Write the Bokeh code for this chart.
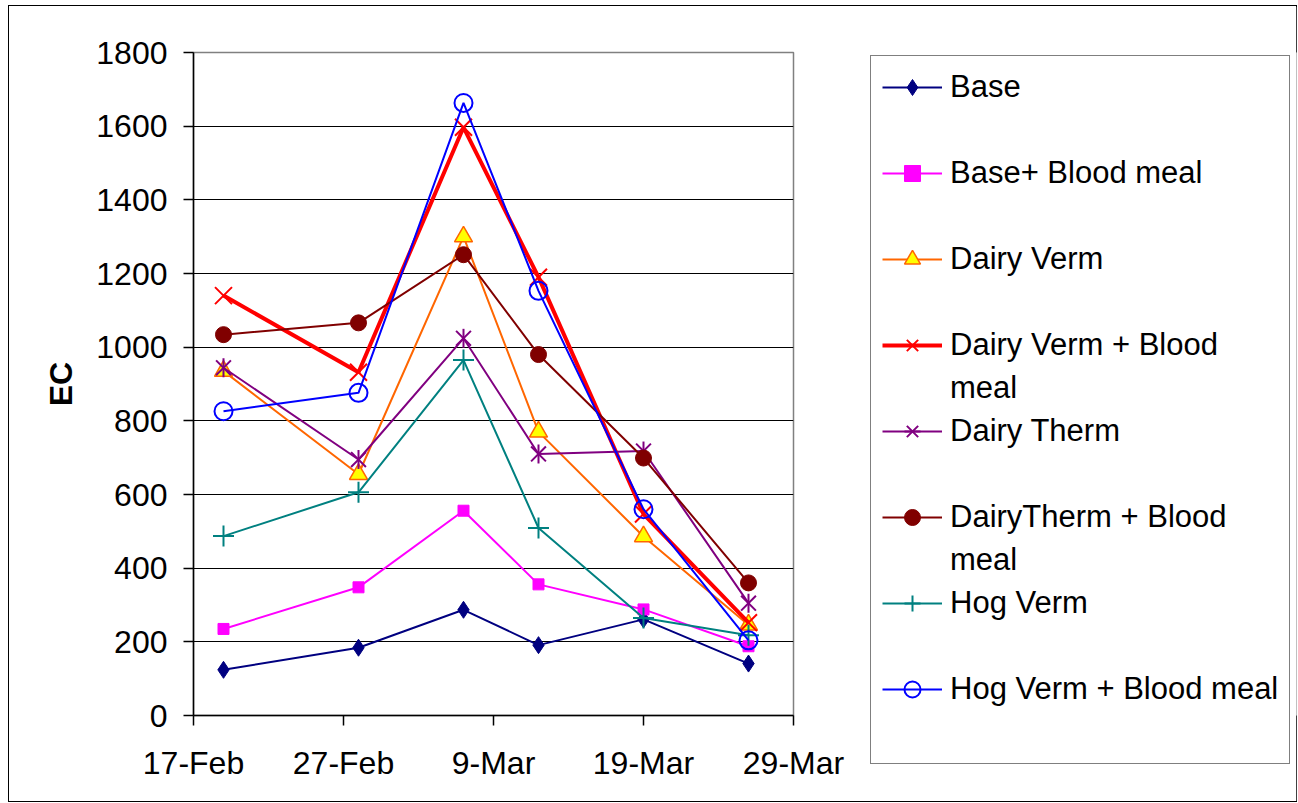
import numpy as np
import pandas as pd
from bokeh.plotting import figure
from bokeh.layouts import row
from bokeh.models import FixedTicker, Legend, LegendItem, Range1d
from bokeh.embed import file_html
from bokeh.resources import INLINE

# ---- data ----
sample_dates = ["19-Feb", "28-Feb", "7-Mar", "12-Mar", "19-Mar", "26-Mar"]
x_tick_labels = ["17-Feb", "27-Feb", "9-Mar", "19-Mar", "29-Mar"]
y_ticks = [0, 200, 400, 600, 800, 1000, 1200, 1400, 1600, 1800]

base = [124, 184, 287, 191, 261, 141]
base_blood = [235, 348, 556, 356, 288, 188]
dairy_verm = [935, 655, 1300, 770, 486, 246]
dairy_verm_blood = [1140, 932, 1597, 1190, 547, 252]
dairy_therm = [944, 695, 1024, 710, 718, 305]
dairytherm_blood = [1034, 1066, 1251, 980, 699, 360]
hog_verm = [487, 606, 965, 509, 265, 218]
hog_verm_blood = [826, 876, 1663, 1153, 560, 204]

names = ["Base", "Base+ Blood meal", "Dairy Verm", "Dairy Verm + Blood\nmeal",
         "Dairy Therm", "DairyTherm + Blood\nmeal", "Hog Verm", "Hog Verm + Blood meal"]

year = "2007"
t0 = pd.to_datetime(x_tick_labels[0] + "-" + year, format="%d-%b-%Y")
xd = [(pd.to_datetime(d + "-" + year, format="%d-%b-%Y") - t0).days for d in sample_dates]
xt = [(pd.to_datetime(d + "-" + year, format="%d-%b-%Y") - t0).days for d in x_tick_labels]

FONT = "Liberation Sans"
H = 795

p = figure(width=858, height=H, output_backend="svg", toolbar_location=None,
           x_range=Range1d(xt[0], xt[-1]), y_range=Range1d(y_ticks[0], y_ticks[-1]),
           min_border_left=184, min_border_right=74, min_border_top=46, min_border_bottom=86)
p.outline_line_color = "#808080"
p.outline_line_width = 1.5
p.background_fill_color = "white"
p.border_fill_color = "white"

p.xgrid.visible = False
p.ygrid.grid_line_color = "black"
p.ygrid.grid_line_width = 1
p.ygrid.ticker = FixedTicker(ticks=y_ticks)

p.xaxis.ticker = FixedTicker(ticks=xt)
p.xaxis.major_label_overrides = {v: l for v, l in zip(xt, x_tick_labels)}
p.yaxis.ticker = FixedTicker(ticks=y_ticks)

for ax in (p.xaxis[0], p.yaxis[0]):
    ax.axis_line_color = "black"
    ax.axis_line_width = 1.5
    ax.major_tick_line_color = "black"
    ax.major_tick_line_width = 1.5
    ax.major_tick_in = 0
    ax.major_tick_out = 10
    ax.minor_tick_line_color = None
    ax.major_label_text_font = FONT
    ax.major_label_text_font_size = "32px"
    ax.major_label_text_color = "black"

p.xaxis.major_label_standoff = 19
p.yaxis.major_label_standoff = 16
p.yaxis.axis_label = "EC"
p.yaxis.axis_label_text_font = FONT
p.yaxis.axis_label_text_font_style = "bold"
p.yaxis.axis_label_text_font_size = "32px"
p.yaxis.axis_label_text_color = "black"
p.yaxis.axis_label_standoff = 14

# legend panel
p2 = figure(width=429, height=H, output_backend="svg", toolbar_location=None,
            x_range=Range1d(-100, -99), y_range=Range1d(-100, -99),
            min_border_left=0, min_border_right=0, min_border_top=46, min_border_bottom=86)
p2.axis.visible = False
p2.grid.visible = False
p2.outline_line_color = None
p2.background_fill_color = "white"
p2.border_fill_color = "white"

styles = [
    ("#000080", 2, [dict(marker="diamond", size=17, fill_color="#000080", line_color="#000080")]),
    ("#FF00FF", 2, [dict(marker="square", size=11, fill_color="#FF00FF", line_color="#FF00FF")]),
    ("#FF6600", 2, [dict(marker="triangle", size=18, fill_color="#FFFF00", line_color="#FF6600", line_width=1.5)]),
    ("#FF0000", 4, [dict(marker="x", size=24, line_color="#FF0000", line_width=2)]),
    ("#800080", 2, [dict(marker="x", size=21, line_color="#800080", line_width=2),
                    dict(marker="dash", size=19, angle=np.pi / 2, line_color="#800080", line_width=2)]),
    ("#800000", 2, [dict(marker="circle", size=16, fill_color="#800000", line_color="#800000")]),
    ("#008080", 2, [dict(marker="cross", size=21, line_color="#008080", line_width=2)]),
    ("#0000FF", 2, [dict(marker="circle", size=18, fill_color=None, line_color="#0000FF", line_width=2)]),
]
series = [base, base_blood, dairy_verm, dairy_verm_blood, dairy_therm,
          dairytherm_blood, hog_verm, hog_verm_blood]

items = []
for i, (name, vals, (color, lw, markers)) in enumerate(zip(names, series, styles)):
    p.line(xd, vals, line_color=color, line_width=lw)
    for m in markers:
        p.scatter(xd, vals, **m)
    rs = [p2.line(xd, vals, line_color=color, line_width=lw)]
    for m in markers:
        rs.append(p2.scatter(xd, vals, **m))
    lines = name.split("\n")
    items.append(LegendItem(label=lines[0], renderers=rs))
    if len(lines) > 1:
        items.append(LegendItem(label=lines[1], renderers=[]))
    else:
        items.append(LegendItem(label="", renderers=[]))

legend = Legend(items=items, location="top_left", orientation="vertical")
legend.border_line_color = "black"
legend.border_line_width = 1.5
legend.background_fill_color = "white"
legend.background_fill_alpha = 1
legend.label_text_font = FONT
legend.label_text_font_size = "31px"
legend.label_text_color = "black"
legend.glyph_width = 60
legend.glyph_height = 40
legend.label_height = 40
legend.label_standoff = 8
legend.spacing = 3
legend.padding = 11
legend.margin = 3
p2.add_layout(legend, "left")

layout = row(p, p2, spacing=0)
layout.styles = {"border": "1px solid black", "margin": "5px 0 0 8px"}

open("out.html", "w").write(file_html(layout, INLINE))
